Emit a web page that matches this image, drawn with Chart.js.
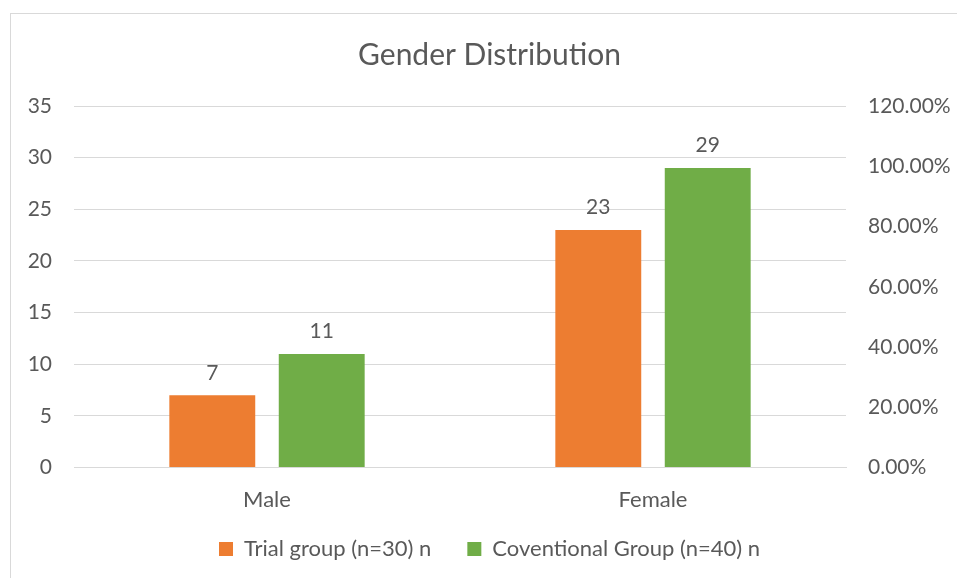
<!DOCTYPE html>
<html>
<head>
<meta charset="utf-8">
<script src="https://cdn.jsdelivr.net/npm/chart.js@4.4.1/dist/chart.umd.min.js"></script>
<style>
  html, body { margin: 0; padding: 0; background: #ffffff; overflow: hidden; }
  #frame {
    position: absolute; left: 10px; top: 13px; width: 980px; height: 600px;
    border-left: 1px solid #d9d9d9; border-top: 1px solid #d9d9d9;
  }
  #wrap { position: absolute; left: 0; top: 0; width: 957px; height: 578px; }
</style>
</head>
<body>
<div id="frame"></div>
<div id="wrap"><canvas id="genderChart"></canvas></div>
<script>
const categories = ["Male", "Female"];
const trialGroup = [7, 23];
const conventionalGroup = [11, 29];
const seriesNames = ["Trial group (n=30) n", "Coventional Group (n=40) n"];
const leftTicks = [0, 5, 10, 15, 20, 25, 30, 35];
const rightTicks = [0, 0.2, 0.4, 0.6, 0.8, 1.0, 1.2];

const TEXT = "#595959";
const GRID = "#d9d9d9";
const FONT = "Lato, 'Open Sans', sans-serif";
const LEGEND_GAP = 36;
const EXTRA = LEGEND_GAP - 14;

const valueLabels = {
  id: "valueLabels",
  afterDatasetsDraw(chart) {
    const ctx = chart.ctx;
    ctx.save();
    ctx.fillStyle = TEXT;
    ctx.font = "21px " + FONT;
    ctx.textAlign = "center";
    ctx.textBaseline = "bottom";
    chart.data.datasets.forEach((ds, i) => {
      const meta = chart.getDatasetMeta(i);
      meta.data.forEach((bar, j) => {
        ctx.fillText(String(ds.data[j]), bar.x, bar.y - 12);
      });
    });
    ctx.restore();
  }
};

// wide gap between legend items without a tall legend box
const legendHeightFix = {
  id: "legendHeightFix",
  beforeLayout(chart) {
    const legend = chart.legend;
    if (!legend || legend._fitPatched) return;
    const origFit = legend.fit;
    const origDraw = legend.draw;
    legend.fit = function () {
      origFit.call(this);
      this.height -= EXTRA;
    };
    legend.draw = function () {
      this.top -= EXTRA;
      origDraw.call(this);
      this.top += EXTRA;
    };
    legend._fitPatched = true;
  }
};

Chart.defaults.font.family = FONT;
Chart.defaults.color = TEXT;

new Chart(document.getElementById("genderChart"), {
  type: "bar",
  data: {
    labels: categories,
    datasets: [
      {
        label: seriesNames[0],
        data: trialGroup,
        backgroundColor: "#ed7d31",
        categoryPercentage: 0.567,
        barPercentage: 0.785,
        yAxisID: "y"
      },
      {
        label: seriesNames[1],
        data: conventionalGroup,
        backgroundColor: "#70ad47",
        categoryPercentage: 0.567,
        barPercentage: 0.785,
        yAxisID: "y"
      }
    ]
  },
  options: {
    responsive: true,
    maintainAspectRatio: false,
    animation: false,
    layout: { padding: { top: 0, bottom: 8, left: 22, right: 0 } },
    plugins: {
      title: {
        display: true,
        text: "Gender Distribution",
        color: TEXT,
        font: { size: 30, weight: "normal" },
        padding: { top: 37, bottom: 33 }
      },
      legend: {
        position: "bottom",
        labels: {
          boxWidth: 14,
          boxHeight: 14,
          font: { size: 22 },
          color: TEXT,
          padding: LEGEND_GAP
        }
      },
      tooltip: { enabled: false }
    },
    scales: {
      x: {
        grid: { display: false },
        border: { color: GRID },
        ticks: { font: { size: 22 }, padding: 11 }
      },
      y: {
        position: "left",
        min: 0,
        max: 35,
        afterBuildTicks(scale) {
          scale.ticks = leftTicks.map((v) => ({ value: v }));
        },
        afterFit(scale) { scale.width = 52; },
        grid: { color: GRID, drawTicks: false },
        border: { display: false },
        ticks: { font: { size: 21 }, padding: 22 }
      },
      y1: {
        position: "right",
        display: true,
        min: 0,
        max: 1.2,
        afterBuildTicks(scale) {
          scale.ticks = rightTicks.map((v) => ({ value: v }));
        },
        afterFit(scale) { scale.width = 111; },
        grid: { display: false, drawTicks: false },
        border: { display: false },
        ticks: {
          font: { size: 21 },
          padding: 22,
          callback(value) {
            return (value * 100).toFixed(2) + "%";
          }
        }
      }
    }
  },
  plugins: [valueLabels, legendHeightFix]
});
</script>
</body>
</html>
